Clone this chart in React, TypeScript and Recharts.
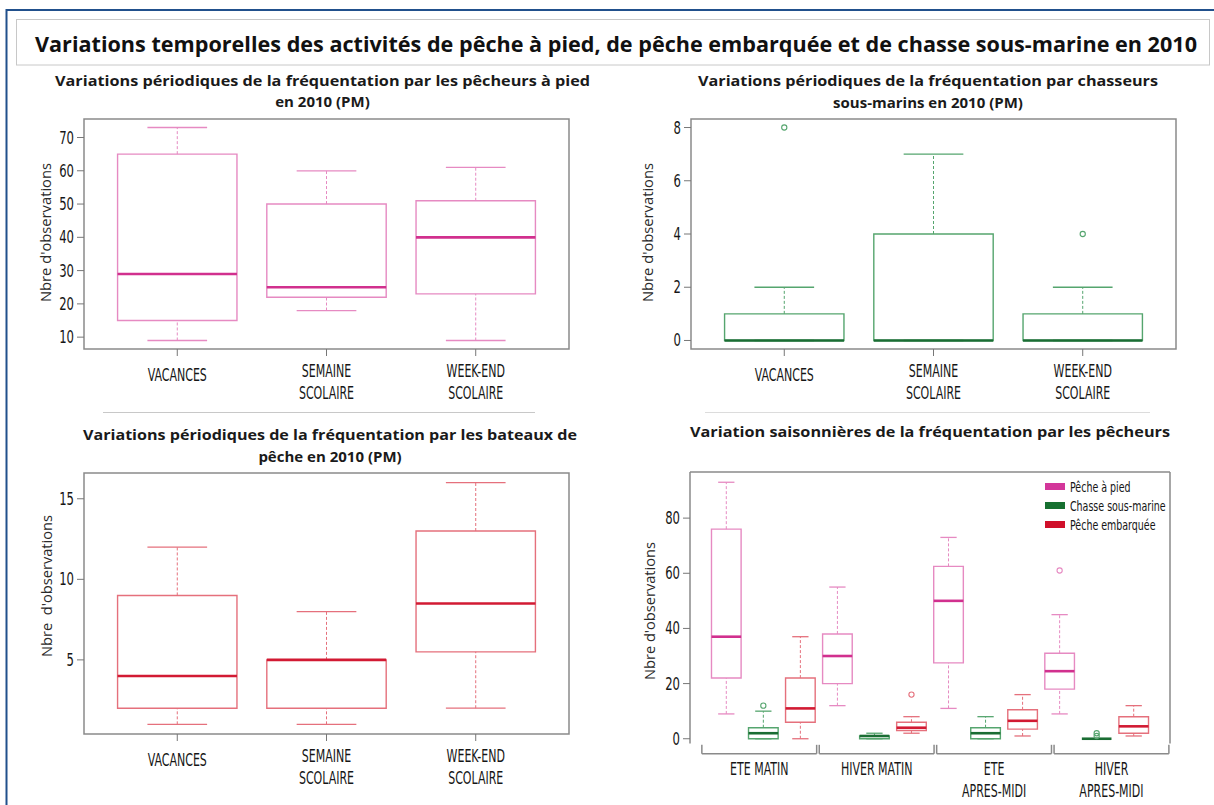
import React from 'react';
import { ComposedChart, XAxis, YAxis, ReferenceArea, ReferenceLine, Scatter, Legend } from 'recharts';

// ---------- DATA ----------
const periodCategories = ['VACANCES', 'SEMAINE\nSCOLAIRE', 'WEEK-END\nSCOLAIRE'];

// Pêcheurs à pied (PM)
const piedLow = [9, 18, 9];
const piedQ1 = [15, 22, 23];
const piedMedian = [29, 25, 40];
const piedQ3 = [65, 50, 51];
const piedHigh = [73, 60, 61];

// Chasseurs sous-marins (PM)
const chasseLow = [0, 0, 0];
const chasseQ1 = [0, 0, 0];
const chasseMedian = [0, 0, 0];
const chasseQ3 = [1, 4, 1];
const chasseHigh = [2, 7, 2];
const chasseOutlierCat = [0, 2];
const chasseOutlierVal = [8, 4];

// Bateaux de pêche (PM)
const bateauLow = [1, 1, 2];
const bateauQ1 = [2, 2, 5.5];
const bateauMedian = [4, 5, 8.5];
const bateauQ3 = [9, 5, 13];
const bateauHigh = [12, 8, 16];

// Variations saisonnières
const seasonCategories = ['ETE MATIN', 'HIVER MATIN', 'ETE\nAPRES-MIDI', 'HIVER\nAPRES-MIDI'];
const seriesNames = ['Pêche à pied', 'Chasse sous-marine', 'Pêche embarquée'];

const seasonPiedLow = [9, 12, 11, 9];
const seasonPiedQ1 = [22, 20, 27.5, 18];
const seasonPiedMedian = [37, 30, 50, 24.5];
const seasonPiedQ3 = [76, 38, 62.5, 31];
const seasonPiedHigh = [93, 55, 73, 45];
const seasonPiedOutSeason = [3];
const seasonPiedOutVal = [61];

const seasonChasseLow = [0, 0, 0, 0];
const seasonChasseQ1 = [0, 0, 0, 0];
const seasonChasseMedian = [2, 1, 2, 0];
const seasonChasseQ3 = [4, 1, 4, 0];
const seasonChasseHigh = [10, 2, 8, 0];
const seasonChasseOutSeason = [0, 3, 3];
const seasonChasseOutVal = [12, 2, 1];

const seasonEmbLow = [0, 2, 1, 1];
const seasonEmbQ1 = [6, 3, 3.5, 2];
const seasonEmbMedian = [11, 4, 6.5, 4.5];
const seasonEmbQ3 = [22, 6, 10.5, 8];
const seasonEmbHigh = [37, 8, 16, 12];
const seasonEmbOutSeason = [1];
const seasonEmbOutVal = [16];

const ticksP1 = [10, 20, 30, 40, 50, 60, 70];
const ticksP2 = [0, 2, 4, 6, 8];
const ticksP3 = [5, 10, 15];
const ticksP4 = [0, 20, 40, 60, 80];

// ---------- STYLE ----------
const COND = "'Liberation Sans Narrow', 'DejaVu Sans Condensed', 'Open Sans', sans-serif";
const SANS = "'Open Sans', 'Noto Sans', sans-serif";
const SQ_X = 0.7; // horizontal squeeze giving a condensed look to axis labels
const SQ_Y = 0.74;
const FRAME = '#8a8a8a';
const TICK = '#777777';
const TXT = '#161616';
const PINK_BOX = '#e68ac2';
const PINK_MED = '#d1308e';
const GREEN_BOX = '#55a56e';
const GREEN_MED = '#1a6d33';
const RED_BOX = '#e5707c';
const RED_MED = '#d21a33';
const LEG_COLORS = ['#d3369a', '#177030', '#d0102a'];

type BoxStat = { pos: number; low: number; q1: number; median: number; q3: number; high: number };

function buildStats(low: number[], q1: number[], med: number[], q3: number[], high: number[], posOf: (i: number) => number): BoxStat[] {
  return low.map((_, i) => ({ pos: posOf(i), low: low[i], q1: q1[i], median: med[i], q3: q3[i], high: high[i] }));
}

function renderBox(b: BoxStat, key: string, boxColor: string, medColor: string, half: number, capHalf: number) {
  return [
    <ReferenceLine key={key + '-wl'} ifOverflow="visible" segment={[{ x: b.pos, y: b.low }, { x: b.pos, y: b.q1 }]} stroke={boxColor} strokeWidth={1} strokeDasharray="3 2" />,
    <ReferenceLine key={key + '-wh'} ifOverflow="visible" segment={[{ x: b.pos, y: b.q3 }, { x: b.pos, y: b.high }]} stroke={boxColor} strokeWidth={1} strokeDasharray="3 2" />,
    <ReferenceLine key={key + '-cl'} ifOverflow="visible" segment={[{ x: b.pos - capHalf, y: b.low }, { x: b.pos + capHalf, y: b.low }]} stroke={boxColor} strokeWidth={1.3} />,
    <ReferenceLine key={key + '-ch'} ifOverflow="visible" segment={[{ x: b.pos - capHalf, y: b.high }, { x: b.pos + capHalf, y: b.high }]} stroke={boxColor} strokeWidth={1.3} />,
    <ReferenceArea key={key + '-box'} ifOverflow="visible" x1={b.pos - half} x2={b.pos + half} y1={b.q1} y2={b.q3} fill="none" fillOpacity={0} stroke={boxColor} strokeWidth={1.4} />,
    <ReferenceLine key={key + '-med'} ifOverflow="visible" segment={[{ x: b.pos - half, y: b.median }, { x: b.pos + half, y: b.median }]} stroke={medColor} strokeWidth={2.6} />,
  ];
}

function frameBox(xd: [number, number], yd: [number, number], key: string) {
  return <ReferenceArea key={key} ifOverflow="visible" x1={xd[0]} x2={xd[1]} y1={yd[0]} y2={yd[1]} fill="none" fillOpacity={0} stroke={FRAME} strokeWidth={1.5} />;
}

const yTick = (props: any) => (
  <g transform={`translate(${props.x},${props.y}) scale(${SQ_Y},1)`}>
    <text x={0} y={0} dy={6} textAnchor="end" fontFamily={COND} fontSize={17.5} fill={TXT}>
      {props.payload.value}
    </text>
  </g>
);

function makeXTick(labels: string[], ticks: number[], single: number, first: number, second: number) {
  return (props: any) => {
    const { x, y, payload } = props;
    const idx = ticks.indexOf(payload.value);
    const lines = (labels[idx] ?? '').split('\n');
    return (
      <g transform={`translate(${x},${y}) scale(${SQ_X},1)`}>
        <text x={0} y={0} textAnchor="middle" fontFamily={COND} fontSize={17.5} fill={TXT}>
          {lines.length === 1 ? (
            <tspan x={0} dy={single}>{lines[0]}</tspan>
          ) : (
            lines.map((l, i) => (
              <tspan key={i} x={0} dy={i === 0 ? first : second - first}>{l}</tspan>
            ))
          )}
        </text>
      </g>
    );
  };
}

const ring = (color: string) => (p: any) => (
  <circle cx={p.cx} cy={p.cy} r={2.6} fill="none" stroke={color} strokeWidth={1.1} />
);

// ---------- PERIOD PANELS ----------
const periodDomain: [number, number] = [0.375, 3.625];
const periodTicks = [1, 2, 3];
const periodTick = makeXTick(periodCategories, periodTicks, 23, 19, 41);

function PeriodPanel(props: {
  left: number; top: number; width: number; height: number; margin: any;
  yDomain: [number, number]; yTicks: number[]; stats: BoxStat[];
  boxColor: string; medColor: string; outliers?: { x: number; y: number }[];
}) {
  const rows = props.stats.map((s) => ({ x: s.pos, y: s.median }));
  return (
    <div style={{ position: 'absolute', left: props.left, top: props.top }}>
      <ComposedChart width={props.width} height={props.height} data={rows} margin={props.margin}>
        <XAxis dataKey="x" type="number" domain={periodDomain} ticks={periodTicks} allowDataOverflow interval={0}
          tickSize={7} tickMargin={2} axisLine={false} tickLine={{ stroke: TICK }} tick={periodTick} height={60} />
        <YAxis dataKey="y" type="number" domain={props.yDomain} ticks={props.yTicks} allowDataOverflow interval={0}
          width={50} tickSize={7} tickMargin={3} axisLine={false} tickLine={{ stroke: TICK }} tick={yTick} />
        {frameBox(periodDomain, props.yDomain, 'frame')}
        {props.stats.flatMap((s, i) => renderBox(s, 'b' + i, props.boxColor, props.medColor, 0.4, 0.2))}
        {props.outliers && props.outliers.length > 0 ? (
          <Scatter data={props.outliers} dataKey="y" isAnimationActive={false} legendType="none" shape={ring(props.boxColor)} />
        ) : null}
      </ComposedChart>
    </div>
  );
}

// ---------- SEASON PANEL ----------
const seasonXDomain: [number, number] = [0.02, 12.98];
const seasonYDomain: [number, number] = [-3.72, 96.72];
const groupStart = (g: number) => 0.34 + g * 3.17;
const groupEnd = (g: number) => groupStart(g) + 3.1;
const seasonTicks = seasonCategories.map((_, g) => (groupStart(g) + groupEnd(g)) / 2);
const seasonTick = makeXTick(seasonCategories, seasonTicks, 24, 24, 46.5);
const posOf = (series: number) => (g: number) => g * 3 + series + 1;

function SeasonPanel() {
  const pied = buildStats(seasonPiedLow, seasonPiedQ1, seasonPiedMedian, seasonPiedQ3, seasonPiedHigh, posOf(0));
  const chasse = buildStats(seasonChasseLow, seasonChasseQ1, seasonChasseMedian, seasonChasseQ3, seasonChasseHigh, posOf(1));
  const emb = buildStats(seasonEmbLow, seasonEmbQ1, seasonEmbMedian, seasonEmbQ3, seasonEmbHigh, posOf(2));
  const rows = [...pied, ...chasse, ...emb].map((s) => ({ x: s.pos, y: s.median }));
  const outPied = seasonPiedOutSeason.map((g, i) => ({ x: posOf(0)(g), y: seasonPiedOutVal[i] }));
  const outChasse = seasonChasseOutSeason.map((g, i) => ({ x: posOf(1)(g), y: seasonChasseOutVal[i] }));
  const outEmb = seasonEmbOutSeason.map((g, i) => ({ x: posOf(2)(g), y: seasonEmbOutVal[i] }));
  const bottomFrame = -1.7;
  const bracketY = -5.45;
  const bracketTop = -2.2;
  const legendContent = () => (
    <div style={{ fontFamily: COND, fontSize: 13.5, color: TXT }}>
      {seriesNames.map((n, i) => (
        <div key={n} style={{ display: 'flex', alignItems: 'center', height: 19, whiteSpace: 'nowrap' }}>
          <span style={{ display: 'inline-block', width: 20, height: 7, background: LEG_COLORS[i], marginRight: 5 }} />
          <span style={{ display: 'inline-block', transform: 'scaleX(0.78)', transformOrigin: 'left center' }}>{n}</span>
        </div>
      ))}
    </div>
  );
  return (
    <div style={{ position: 'absolute', left: 600, top: 460 }}>
      <ComposedChart width={614} height={345} data={rows} margin={{ top: 12, right: 44, bottom: 6, left: 40 }}>
        <XAxis dataKey="x" type="number" domain={seasonXDomain} ticks={seasonTicks} allowDataOverflow interval={0}
          tickSize={0} tickMargin={2} axisLine={false} tickLine={false} tick={seasonTick} height={50} />
        <YAxis dataKey="y" type="number" domain={seasonYDomain} ticks={ticksP4} allowDataOverflow interval={0}
          width={50} tickSize={7} tickMargin={3} axisLine={false} tickLine={{ stroke: TICK }} tick={yTick} />
        <ReferenceLine ifOverflow="visible" segment={[{ x: seasonXDomain[0], y: seasonYDomain[1] }, { x: seasonXDomain[1], y: seasonYDomain[1] }]} stroke={FRAME} strokeWidth={1.5} />
        <ReferenceLine ifOverflow="visible" segment={[{ x: seasonXDomain[0], y: seasonYDomain[1] }, { x: seasonXDomain[0], y: bottomFrame }]} stroke={FRAME} strokeWidth={1.5} />
        <ReferenceLine ifOverflow="visible" segment={[{ x: seasonXDomain[1], y: seasonYDomain[1] }, { x: seasonXDomain[1], y: bottomFrame }]} stroke={FRAME} strokeWidth={1.5} />
        {seasonCategories.flatMap((_, g) => [
          <ReferenceLine key={'br' + g} ifOverflow="visible" segment={[{ x: groupStart(g), y: bracketY }, { x: groupEnd(g), y: bracketY }]} stroke={FRAME} strokeWidth={1.5} />,
          <ReferenceLine key={'bl' + g} ifOverflow="visible" segment={[{ x: groupStart(g), y: bracketY }, { x: groupStart(g), y: bracketTop }]} stroke={FRAME} strokeWidth={1.5} />,
          <ReferenceLine key={'bt' + g} ifOverflow="visible" segment={[{ x: groupEnd(g), y: bracketY }, { x: groupEnd(g), y: bracketTop }]} stroke={FRAME} strokeWidth={1.5} />,
        ])}
        {pied.flatMap((s, i) => renderBox(s, 'p' + i, PINK_BOX, PINK_MED, 0.4, 0.22))}
        {chasse.flatMap((s, i) => renderBox(s, 'c' + i, GREEN_BOX, GREEN_MED, 0.4, 0.22))}
        {emb.flatMap((s, i) => renderBox(s, 'e' + i, RED_BOX, RED_MED, 0.4, 0.22))}
        <Scatter name={seriesNames[0]} data={outPied} dataKey="y" isAnimationActive={false} shape={ring(PINK_BOX)} />
        <Scatter name={seriesNames[1]} data={outChasse} dataKey="y" isAnimationActive={false} shape={ring(GREEN_BOX)} />
        <Scatter name={seriesNames[2]} data={outEmb} dataKey="y" isAnimationActive={false} shape={ring(RED_BOX)} />
        <Legend layout="vertical" align="center" verticalAlign="middle" content={legendContent}
          wrapperStyle={{ left: 445, top: 17, width: 150, height: 60, bottom: 'auto', right: 'auto' }} />
      </ComposedChart>
    </div>
  );
}

// ---------- OVERLAY TEXT ----------
function Overlay() {
  const yLabel = (x: number, y: number, len: number, text: string) => (
    <text x={x} y={y} transform={`rotate(-90 ${x} ${y})`} textAnchor="middle" fontFamily={SANS} fontSize={14.5}
      fill="#2a2a2a" textLength={len} lengthAdjust="spacingAndGlyphs" style={{ whiteSpace: 'pre' }}>{text}</text>
  );
  const title = (x: number, y: number, text: string, len?: number) => (
    <text x={x} y={y} textAnchor="middle" fontFamily={SANS} fontWeight={700} fontSize={15} fill="#1a1a1a"
      {...(len ? { textLength: len, lengthAdjust: 'spacingAndGlyphs' } : {})}>{text}</text>
  );
  return (
    <svg width={1214} height={805} style={{ position: 'absolute', left: 0, top: 0 }}>
      <rect x={6.5} y={10} width={1220} height={820} fill="#fff" stroke="#21508c" strokeWidth={2} />
      <rect x={16.5} y={19.5} width={1193} height={45.5} fill="#fff" stroke="#c8c8c8" strokeWidth={1} />
      <text x={616} y={52} textAnchor="middle" fontFamily={SANS} fontWeight={700} fontSize={21} fill="#111"
        textLength={1162} lengthAdjust="spacingAndGlyphs">
        Variations temporelles des activités de pêche à pied, de pêche embarquée et de chasse sous-marine en 2010
      </text>
      {title(322.5, 86, 'Variations périodiques de la fréquentation par les pêcheurs à pied', 535)}
      {title(322.5, 107, 'en 2010 (PM)')}
      {title(928, 86, 'Variations périodiques de la fréquentation par chasseurs', 460)}
      {title(928, 108, 'sous-marins en 2010 (PM)')}
      {title(330, 440, 'Variations périodiques de la fréquentation par les bateaux de', 494)}
      {title(330, 462, 'pêche en 2010 (PM)')}
      {title(930, 437, 'Variation saisonnières de la fréquentation par les pêcheurs', 480)}
      {yLabel(50.5, 232.5, 139, "Nbre d'observations")}
      {yLabel(653, 232.5, 139, "Nbre d'observations")}
      {yLabel(52, 586, 142, "Nbre  d'observations")}
      {yLabel(655, 611, 138, "Nbre d'observations")}
      <line x1={103} x2={535} y1={412.5} y2={412.5} stroke="#c8c8c8" strokeWidth={1} />
      <line x1={705} x2={1150} y1={412.5} y2={412.5} stroke="#dcdcdc" strokeWidth={1} />
    </svg>
  );
}

export default function App() {
  const s1 = buildStats(piedLow, piedQ1, piedMedian, piedQ3, piedHigh, (i) => i + 1);
  const s2 = buildStats(chasseLow, chasseQ1, chasseMedian, chasseQ3, chasseHigh, (i) => i + 1);
  const s3 = buildStats(bateauLow, bateauQ1, bateauMedian, bateauQ3, bateauHigh, (i) => i + 1);
  const out2 = chasseOutlierCat.map((c, i) => ({ x: c + 1, y: chasseOutlierVal[i] }));
  return (
    <div style={{ position: 'absolute', left: 0, top: 0, width: 1214, height: 805, background: '#fff', overflow: 'hidden' }}>
      <Overlay />
      <PeriodPanel left={0} top={100} width={600} height={310} margin={{ top: 19, right: 31, bottom: 1, left: 34 }}
        yDomain={[6.44, 75.56]} yTicks={ticksP1} stats={s1} boxColor={PINK_BOX} medColor={PINK_MED} />
      <PeriodPanel left={600} top={100} width={614} height={310} margin={{ top: 19, right: 38, bottom: 1, left: 41 }}
        yDomain={[-0.32, 8.32]} yTicks={ticksP2} stats={s2} boxColor={GREEN_BOX} medColor={GREEN_MED} outliers={out2} />
      <PeriodPanel left={0} top={460} width={600} height={340} margin={{ top: 13, right: 31, bottom: 6, left: 34 }}
        yDomain={[0.4, 16.6]} yTicks={ticksP3} stats={s3} boxColor={RED_BOX} medColor={RED_MED} />
      <SeasonPanel />
    </div>
  );
}
